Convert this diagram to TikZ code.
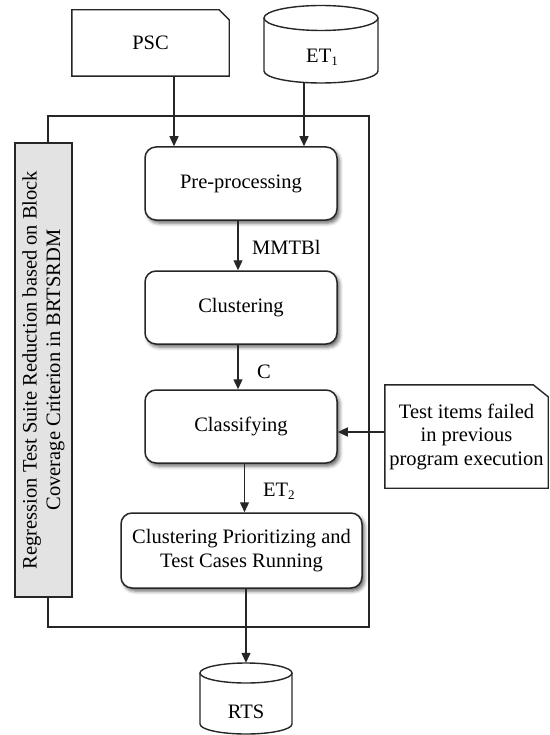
\documentclass[tikz,border=0pt]{standalone}
\usepackage{fontspec}
\setmainfont{Liberation Serif}
\usetikzlibrary{arrows.meta,shadows.blur,calc}
\newcommand{\lowsub}[1]{\raisebox{-0.35ex}{\fontsize{13}{13}\selectfont #1}}
\begin{document}
\begin{tikzpicture}[x=1pt,y=-1pt,
  every node/.style={font=\fontsize{20.5}{23.5}\selectfont, inner sep=0pt, text=black},
  proc/.style={draw=black!85, line width=1.5pt, rounded corners=11pt, fill=white,
    align=center, minimum width=192pt, minimum height=73pt,
    blur shadow={shadow xshift=2.5pt, shadow yshift=-3pt, shadow blur radius=3.5pt, shadow opacity=60}},
  arr/.style={draw=black!85, line width=1.3pt, -{Triangle[length=10pt,width=9pt]}},
  edge/.style={draw=black!85, line width=1.4pt},
  lbl/.style={anchor=west}]
\useasboundingbox (0,0) rectangle (549,735);

% enclosing frame of the method
\draw[edge] (48,116) rectangle (369,627);

% vertical title bar
\node[draw=black!85, line width=1.4pt, fill=black!11, rotate=90, align=center,
      minimum width=454pt, minimum height=57pt] (title) at (43.5,370)
  {Regression Test Suite Reduction based on Block\\Coverage Criterion in BRTSRDM};

% inputs
\node[minimum width=157pt, minimum height=66pt] (psc) at (150.5,43) {PSC};
\draw[edge] (psc.south west) -- (psc.north west) -- ($(psc.north east)+(-10,0)$)
  -- ($(psc.north east)+(0,10)$) -- (psc.south east) -- cycle;

\node[minimum width=114pt, minimum height=52pt] (et1) at (322,57) {ET\lowsub{1}};
\draw[edge] (321,18) ellipse[x radius=57, y radius=12.5];
\draw[edge] (264,18) -- (264,71) arc[start angle=180, end angle=0, x radius=57, y radius=12] -- (378,18);

% process steps
\node[proc] (pre) at (241,183.5) {Pre-processing};
\node[proc] (clu) at (241,307.5) {Clustering};
\node[proc] (cls) at (241,426.5) {Classifying};
\node[proc, minimum width=241pt, minimum height=75pt] (cpr) at (241.5,550.5)
  {Clustering Prioritizing and\\Test Cases Running};

% side input note
\node[minimum width=163pt, minimum height=103pt, align=center] (note) at (466.5,436.5)
  {Test items failed\\in previous\\program execution};
\draw[edge] (note.south west) -- (note.north west) -- ($(note.north east)+(-15,0)$)
  -- ($(note.north east)+(0,12)$) -- (note.south east) -- cycle;

% output store
\node[minimum width=92pt, minimum height=98pt] (rts) at (246,712) {RTS};
\draw[edge] (246,673) ellipse[x radius=46, y radius=10];
\draw[edge] (200,673) -- (200,724) arc[start angle=180, end angle=0, x radius=46, y radius=10] -- (292,673);

% data flow
\draw[arr] ([xshift=23.5pt]psc.south) -- ([xshift=23.5pt]psc.south |- pre.north);
\draw[arr] ([xshift=-18pt]et1.south) -- ([xshift=-18pt]et1.south |- pre.north);
\draw[arr] ([xshift=-3pt]pre.south) -- ([xshift=-3pt]pre.south |- clu.north);
\draw[arr] ([xshift=-3pt]clu.south) -- ([xshift=-3pt]clu.south |- cls.north);
\draw[arr] ([xshift=3.5pt]cls.south) -- ([xshift=3.5pt]cls.south |- cpr.north);
\draw[arr] ([yshift=4.5pt]note.west) -- ([yshift=4.5pt]note.west -| cls.east);
\draw[arr] (cpr.south -| rts.north) -- (rts.north);

% flow labels
\node[lbl] (l1) at (252,247) {MMTBl};
\node[lbl] (l2) at (257,372) {C};
\node[lbl] (l3) at (263,491) {ET\lowsub{2}};
\end{tikzpicture}
\end{document}
